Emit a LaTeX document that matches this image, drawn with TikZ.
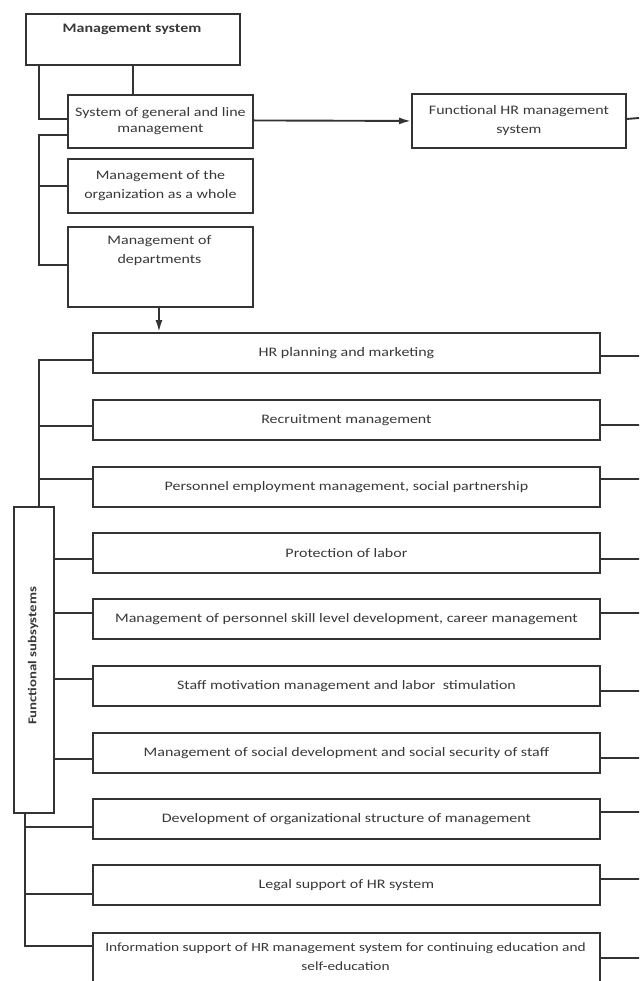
\documentclass[tikz,border=0pt]{standalone}
\usepackage{fontspec}
\setmainfont{Carlito}[FakeStretch=1.23]
\usetikzlibrary{arrows.meta}
\definecolor{ln}{HTML}{333333}
\definecolor{tx}{HTML}{383838}
\begin{document}
\begin{tikzpicture}[x=1pt,y=-1pt,
  conn/.style={draw=ln, line width=1.9pt},
  arr/.style={conn, -{Latex[length=12pt,width=7pt]}},
  box/.style={draw=ln, line width=1.9pt, rectangle, inner sep=0pt,
    anchor=north west, align=center, text=tx,
    font=\fontsize{13}{19}\selectfont},
  hrbox/.style={box, minimum width=507pt, minimum height=40pt},
  lbl/.style={text=tx, align=center, inner sep=0pt, font=\fontsize{13}{19}\selectfont}
  ]
\useasboundingbox (0,0) rectangle (639,981);
\clip (0,0) rectangle (639,981);
% top part
\node[box, minimum width=214pt, minimum height=51pt] (ms) at (25,13) {};
\node[lbl, font=\fontsize{13}{19}\selectfont\bfseries] (mst) at (132,29) {Management system};
\node[box, minimum width=185pt, minimum height=53pt, font=\fontsize{13}{16}\selectfont] (sys) at (67,94) {System of general and line\\management};
\node[box, minimum width=185pt, minimum height=54pt] (org) at (67,158) {Management of the\\organization as a whole};
\node[box, minimum width=185pt, minimum height=80pt] (dep) at (67,226) {};
\node[lbl] (dept) at (159.5,251) {Management of\\departments};
\node[box, minimum width=214pt, minimum height=54pt] (fhr) at (411,93) {Functional HR management\\system};
\coordinate (fhrend) at (639,118);
% HR boxes
\node[hrbox] (hr1) at (92,332) {HR planning and marketing};
\node[hrbox] (hr2) at (92,399) {Recruitment management};
\node[hrbox] (hr3) at (92,466) {Personnel employment management, social partnership};
\node[hrbox] (hr4) at (92,532) {Protection of labor};
\node[hrbox] (hr5) at (92,598) {Management of personnel skill level development, career management};
\node[hrbox] (hr6) at (92,665) {Staff motivation management and labor\ \ stimulation};
\node[hrbox] (hr7) at (92,732) {Management of social development and social security of staff};
\node[hrbox] (hr8) at (92,798) {Development of organizational structure of management};
\node[hrbox] (hr9) at (92,864) {Legal support of HR system};
\node[box, minimum width=507pt, minimum height=80pt] (hr10) at (92,932) {};
\node[lbl, font=\fontsize{12.5}{19}\selectfont] (hr10t) at (345.5,957) {Information support of HR management system for continuing education and\\self-education};
% functional subsystems
\node[box, minimum width=40pt, minimum height=306pt] (fs) at (13,506) {};
\node[lbl, rotate=90, font=\fontsize{12}{14}\selectfont\bfseries] (fst) at (33,656) {Functional subsystems};
% connectors top
\draw[conn] (ms.south) -- (ms.south |- sys.north);
\draw[conn] ([xshift=14pt]ms.south west) |- ([yshift=2pt]sys.west);
\draw[conn] ([yshift=-14pt]sys.west) -| (39,265) -- (39,265 -| dep.west);
\draw[conn] (39,186) -- (39,186 -| org.west);
\draw[arr] ([yshift=1pt]sys.east) -- (fhr.west);
\draw[conn] ([yshift=2pt]fhr.east) -- (fhrend);
\draw[arr] ([xshift=-1.5pt]dep.south) -- ([xshift=-1.5pt]dep.south |- hr1.north);
% right stubs
\draw[conn] ([yshift=-3pt]hr1.east) -- ++(40,0);
\draw[conn] ([yshift=-5pt]hr2.east) -- ++(40,0);
\draw[conn] ([yshift=8pt]hr3.east) -- ++(40,0);
\draw[conn] ([yshift=-6pt]hr4.east) -- ++(40,0);
\draw[conn] ([yshift=6pt]hr5.east) -- ++(40,0);
\draw[conn] ([yshift=-5pt]hr6.east) -- ++(40,0);
\draw[conn] ([yshift=-5pt]hr7.east) -- ++(40,0);
\draw[conn] ([yshift=7pt]hr8.east) -- ++(40,0);
\draw[conn] ([yshift=6pt]hr9.east) -- ++(40,0);
\draw[conn] ([yshift=15pt]hr10.east) -- ++(40,0);
% left brackets
\draw[conn] ([yshift=-7pt]hr1.west) -| (fs.north -| 39,0);
\draw[conn] ([yshift=-6pt]hr2.west) -- ([yshift=-6pt]hr2.west -| 39,0);
\draw[conn] ([yshift=8pt]hr3.west) -- ([yshift=8pt]hr3.west -| 39,0);
\draw[conn] ([yshift=-6pt]hr4.west) -- ([yshift=-6pt]hr4.west -| fs.east);
\draw[conn] ([yshift=6pt]hr5.west) -- ([yshift=6pt]hr5.west -| fs.east);
\draw[conn] ([yshift=7pt]hr6.west) -- ([yshift=7pt]hr6.west -| fs.east);
\draw[conn] ([yshift=-6pt]hr7.west) -- ([yshift=-6pt]hr7.west -| fs.east);
\draw[conn] (fs.south -| 25,0) |- ([yshift=27pt]hr10.west);
\draw[conn] ([yshift=-8pt]hr8.west) -- ([yshift=-8pt]hr8.west -| 25,0);
\draw[conn] ([yshift=-9pt]hr9.west) -- ([yshift=-9pt]hr9.west -| 25,0);
\end{tikzpicture}
\end{document}
